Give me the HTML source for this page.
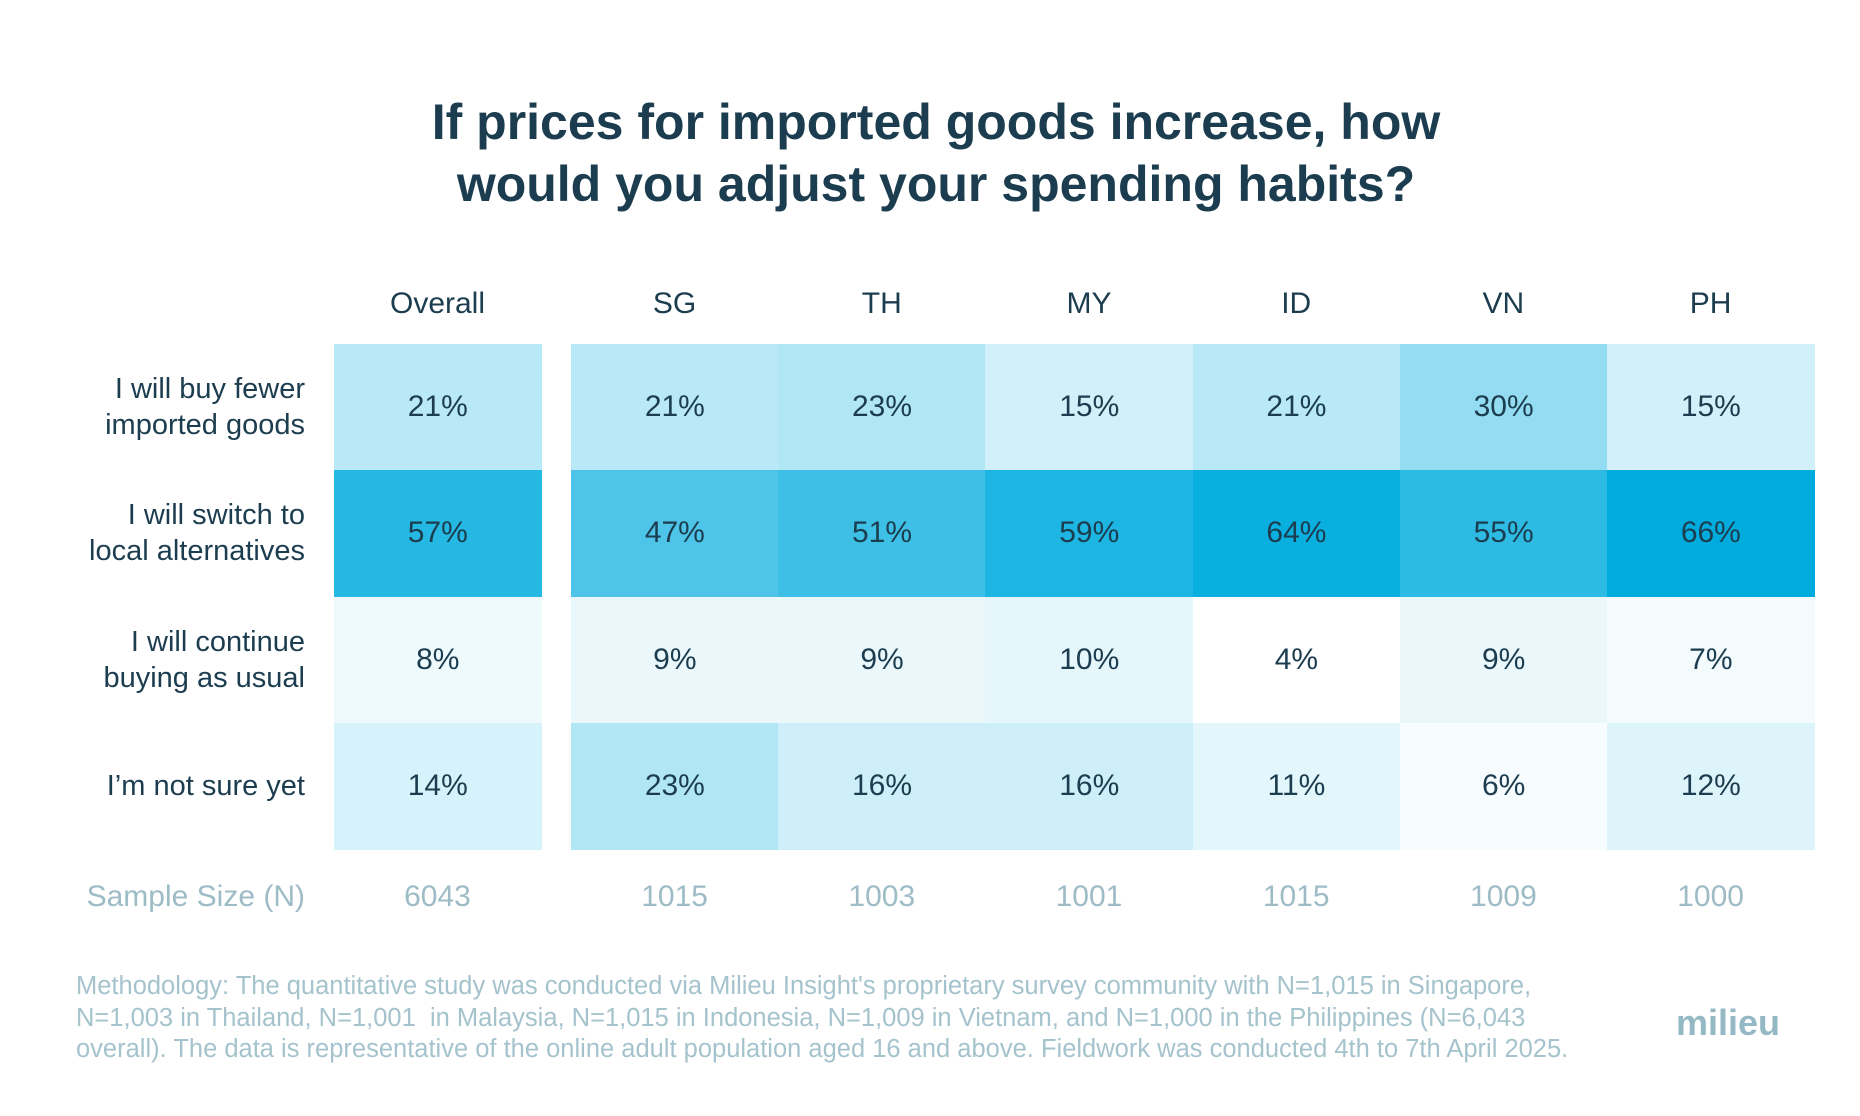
<!DOCTYPE html>
<html><head><meta charset="utf-8"><style>
body{margin:0;background:#fff;font-family:"Liberation Sans",sans-serif;}
#wrap{position:relative;width:1860px;height:1116px;overflow:hidden;background:#fff;}
.t{position:absolute;white-space:nowrap;}
</style></head><body>
<div id="wrap">
<div class="t" style="left:0;width:1872px;top:91px;text-align:center;font-size:50px;font-weight:bold;color:#1c3d4f;line-height:62px;">If prices for imported goods increase, how<br>would you adjust your spending habits?</div>
<div class="t" style="left:76px;top:971px;font-size:25.5px;line-height:31.5px;color:#a5c3cc;">Methodology: The quantitative study was conducted via Milieu Insight's proprietary survey community with N=1,015 in Singapore,<br>N=1,003 in Thailand, N=1,001&nbsp; in Malaysia, N=1,015 in Indonesia, N=1,009 in Vietnam, and N=1,000 in the Philippines (N=6,043<br>overall). The data is representative of the online adult population aged 16 and above. Fieldwork was conducted 4th to 7th April 2025.</div>
<div class="t" style="left:1676px;top:1002px;font-size:36px;font-weight:bold;color:#94b8c4;">milieu</div>
</div>
<script>
const columns=["Overall","SG","TH","MY","ID","VN","PH"];
const rowLabels=[["I will buy fewer","imported goods"],["I will switch to","local alternatives"],["I will continue","buying as usual"],["I\u2019m not sure yet"]];
const row0=[21,21,23,15,21,30,15];
const row1=[57,47,51,59,64,55,66];
const row2=[8,9,9,10,4,9,7];
const row3=[14,23,16,16,11,6,12];
const sampleSizes=[6043,1015,1003,1001,1015,1009,1000];
const values=[row0,row1,row2,row3];
const W=document.getElementById('wrap');
const cw=207.2, top0=344, rh=126.3;
function colX(i){return i===0?334:571+(i-1)*cw;}
function colW(i){return i===0?207:cw;}
function rowY(r){return top0+r*rh;}
function color(v){let t=Math.max(0,Math.min(1,(v-4)/62));const c=[0,172,222];return 'rgb('+c.map(x=>Math.round(255+(x-255)*t)).join(',')+')';}
function mk(style,txt){const d=document.createElement('div');d.className='t';d.style.cssText=style;if(txt!==undefined)d.innerHTML=txt;W.appendChild(d);return d;}
columns.forEach((c,i)=>{
 const d=mk('left:'+colX(i)+'px;width:'+colW(i)+'px;top:287px;text-align:center;font-size:30px;color:#1c3d4f;',c);
 
 
 const s=mk('left:'+colX(i)+'px;width:'+colW(i)+'px;top:880px;text-align:center;font-size:30px;color:#9dbcc6;',String(sampleSizes[i]));
 
 
});
const sl=mk('right:1555px;top:880px;text-align:right;font-size:30px;color:#9dbcc6;','Sample Size (N)');


values.forEach((arr,r)=>{
 const lab=mk('right:1555px;top:'+(rowY(r)+rh/2-(rowLabels[r].length*36)/2)+'px;text-align:right;font-size:29px;line-height:36px;color:#1c3d4f;',rowLabels[r].join('<br>'));
 
 
 arr.forEach((v,i)=>{
  const cell=mk('left:'+colX(i)+'px;width:'+(colW(i)+0.5)+'px;top:'+rowY(r)+'px;height:'+(rh+0.5)+'px;line-height:'+rh+'px;text-align:center;font-size:30px;color:#1c3d4f;background:'+color(v)+';',v+'%');
  
  
 });
});
</script>
</body></html>
